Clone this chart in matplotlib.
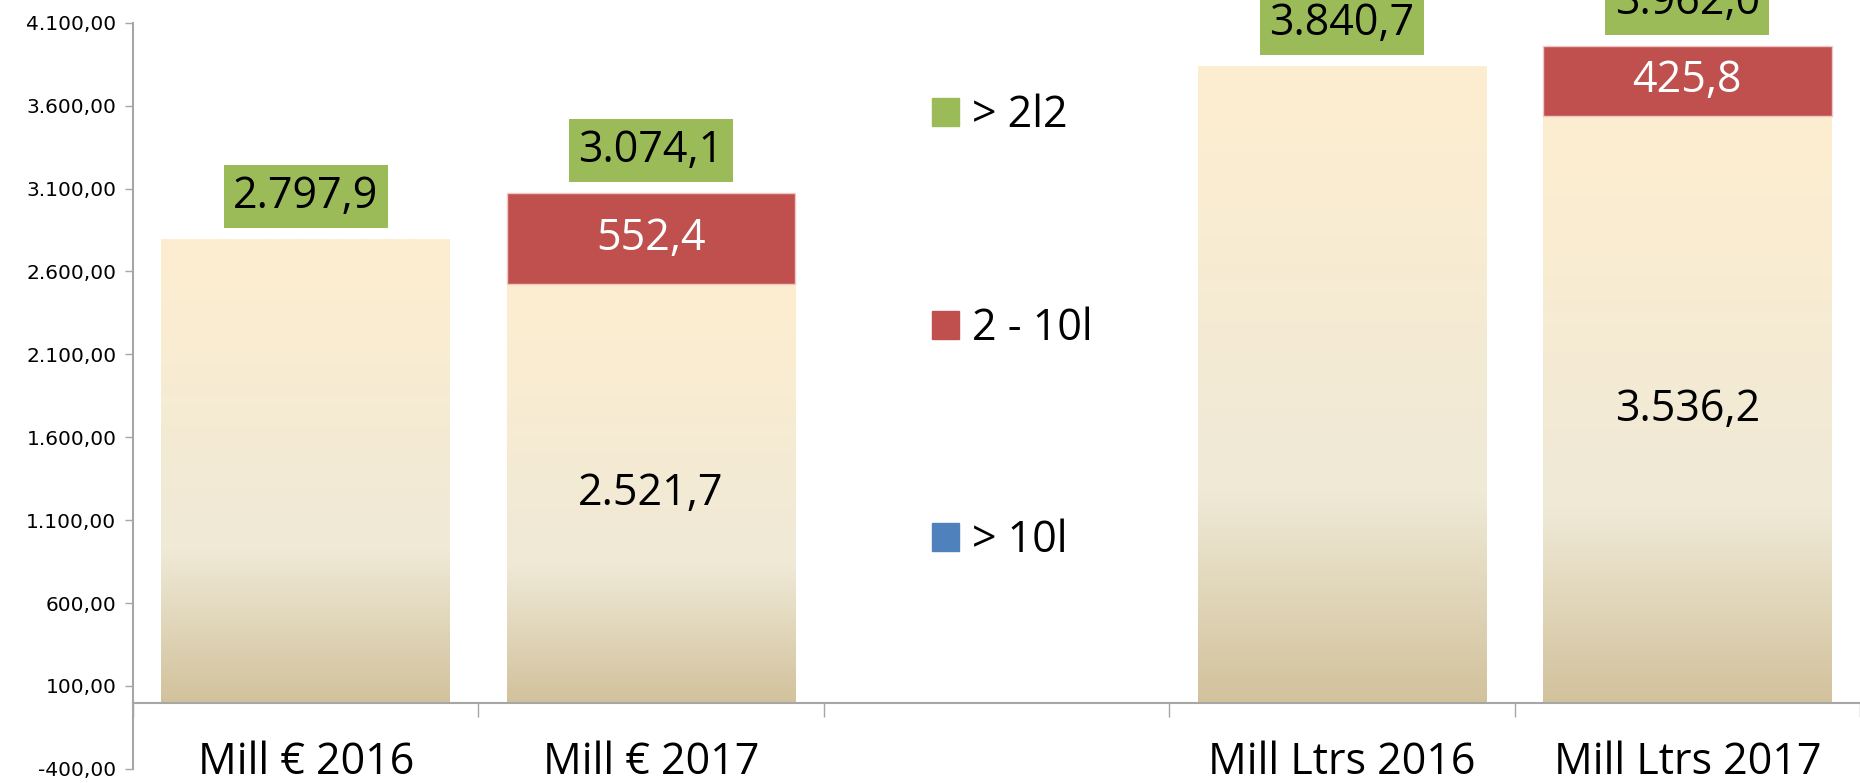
import numpy as np
import matplotlib; matplotlib.use("Agg")
import matplotlib.pyplot as plt
from matplotlib.colors import LinearSegmentedColormap
from matplotlib.patches import Patch
from matplotlib.ticker import FuncFormatter

categories = ["Mill € 2016", "Mill € 2017", "", "Mill Ltrs 2016", "Mill Ltrs 2017"]
base = [2797.9, 2521.7, np.nan, 3840.7, 3536.2]   # cream segment
mid = [0.0, 552.4, np.nan, 0.0, 425.8]            # 2 - 10l segment
legend_labels = ["> 2l2", "2 - 10l", "> 10l"]
yticks = np.arange(-400, 4101, 500)

GREEN, RED, BLUE = "#9BBB59", "#C0504D", "#4F81BD"
GRAY = "#A6A6A6"
BIG = "Open Sans"
cream = LinearSegmentedColormap.from_list(
    "cream", [(0, "#D2C29C"), (0.33, "#EFE9D6"), (1, "#FEEED0")])


def de(v, d):
    s = f"{v:,.{d}f}"
    return s.replace(",", "X").replace(".", ",").replace("X", ".")


fig = plt.figure(figsize=(18.6, 7.83), dpi=100)
ax = fig.add_axes([0.0715, 0.018, 0.9285, 0.953])

x = np.arange(len(categories))
b = np.nan_to_num(base)
m = np.nan_to_num(mid)
tot = b + m
W = 0.835

# gradient filled base bars
bars = ax.bar(x, b, width=W, color="none", edgecolor="none")
grad = np.linspace(0, 1, 256).reshape(-1, 1)
for p, v in zip(bars, b):
    if v <= 0:
        continue
    ax.imshow(grad, extent=[p.get_x(), p.get_x() + p.get_width(), 0, v],
              origin="lower", aspect="auto", cmap=cream, zorder=1)

has = m > 0
ax.bar(x[has], m[has], bottom=b[has], width=W, color=RED,
       edgecolor="#F2C6C4", linewidth=1, zorder=2)

# labels
for xi, bv, mv, tv in zip(x, b, m, tot):
    if tv <= 0:
        continue
    ax.annotate(de(tv, 1), (xi, tv), xytext=(0, 30.5), textcoords="offset points",
                ha="center", va="center", fontsize=31, family=BIG, color="black",
                bbox=dict(boxstyle="square,pad=0.22", fc=GREEN, ec="none"),
                annotation_clip=False, zorder=4)
    if mv > 0:
        ax.text(xi, bv + mv / 2, de(mv, 1), ha="center", va="center",
                fontsize=31, family=BIG, color="white", zorder=4)
        ax.text(xi, bv / 2, de(bv, 1), ha="center", va="center",
                fontsize=31, family=BIG, color="black", zorder=4)

ax.set_xlim(-0.5, len(categories) - 0.5)
ax.set_ylim(-400, 4100)

for s in ("top", "right"):
    ax.spines[s].set_visible(False)
ax.spines["bottom"].set_position(("data", 0))
ax.spines["bottom"].set_color(GRAY)
ax.spines["bottom"].set_linewidth(1.5)
ax.spines["left"].set_color(GRAY)
ax.spines["left"].set_linewidth(1.5)

ax.set_xticks(x)
ax.set_xticklabels(categories, fontsize=31, family=BIG)
ax.set_xticks(np.arange(-0.5, len(categories)), minor=True)
ax.tick_params(axis="x", which="major", length=0, pad=27)
ax.tick_params(axis="x", which="minor", length=10, width=1, color=GRAY, direction="out")

ax.set_yticks(yticks)
ax.yaxis.set_major_formatter(FuncFormatter(lambda v, _: de(v, 2)))
ax.tick_params(axis="y", length=6, width=1, color=GRAY, labelsize=14.5, pad=6)

handles = [Patch(color=c) for c in (GREEN, RED, BLUE)]
ax.legend(handles, legend_labels, loc="center left", bbox_to_anchor=(0.45, 0.59),
          frameon=False, borderpad=0, handlelength=0.63, handleheight=0.63,
          handletextpad=0.3, labelspacing=3.9, prop=dict(family=BIG, size=31))

fig.savefig("out.png", dpi=100)
